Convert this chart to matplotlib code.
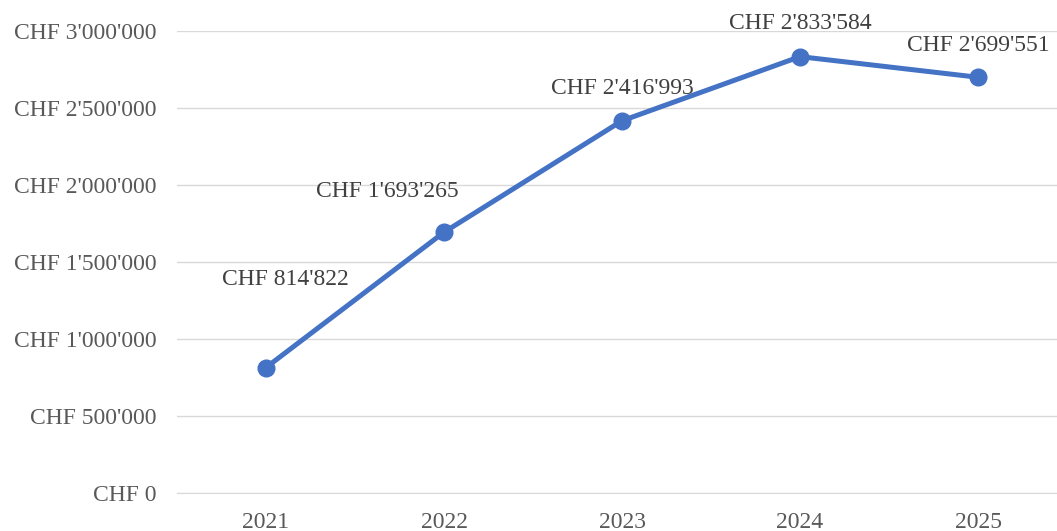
import matplotlib
matplotlib.use("Agg")
import matplotlib.pyplot as plt
from matplotlib.ticker import FuncFormatter

years = ["2021", "2022", "2023", "2024", "2025"]
values = [814822, 1693265, 2416993, 2833584, 2699551]
y_ticks = [0, 500000, 1000000, 1500000, 2000000, 2500000, 3000000]

def chf(v):
    s = f"{int(round(v)):,}".replace(",", "'")
    return f"CHF {s}"

# label offsets in pixels (dx, dy) relative to point
label_offsets = [(19, 88), (-57, 41), (0, 32), (0, 33), (0, 32)]

plt.rcParams['font.family'] = ['Liberation Serif', 'DejaVu Serif']
fig = plt.figure(figsize=(10.57, 5.31), dpi=100)
W, H = 1057, 531
left, right = 177, 1067
top, bottom = 31, 493
ax = fig.add_axes([left / W, 1 - bottom / H, (right - left) / W, (bottom - top) / H])

x = list(range(len(years)))
color = "#4472C4"
ax.plot(x, values, color=color, linewidth=3.6, marker="o", markersize=12,
        solid_capstyle="round", zorder=3, clip_on=False)

ax.set_xlim(-0.5, len(years) - 0.5)
ax.set_ylim(0, 3000000)
ax.set_yticks(y_ticks)
ax.yaxis.set_major_formatter(FuncFormatter(lambda v, p: chf(v)))
ax.set_xticks(x)
ax.set_xticklabels(years)

ax.grid(axis="y", color="#D9D9D9", linewidth=1)
ax.set_axisbelow(True)
for s in ["top", "right", "left"]:
    ax.spines[s].set_visible(False)
ax.spines["bottom"].set_color("#D9D9D9")
ax.tick_params(axis="both", length=0, labelsize=17, colors="#595959")
ax.tick_params(axis="y", pad=15)
ax.tick_params(axis="x", pad=13.5)

for xi, v, (dx, dy) in zip(x, values, label_offsets):
    ax.annotate(chf(v), (xi, v), xytext=(dx * 0.72, dy * 0.72), textcoords="offset points",
                ha="center", va="center", fontsize=17, color="#404040")

fig.savefig("out.png", dpi=100)
